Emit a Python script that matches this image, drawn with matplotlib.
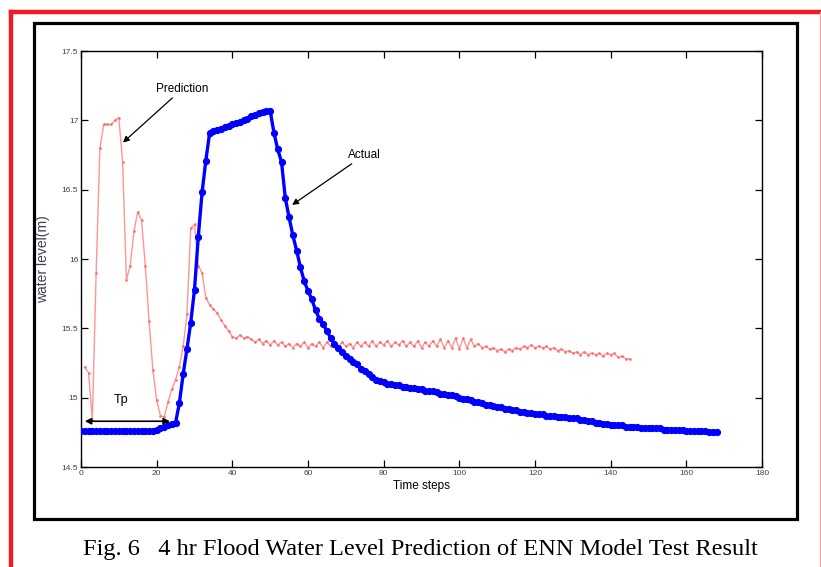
import matplotlib
matplotlib.use("Agg")
import matplotlib.pyplot as plt
from matplotlib.lines import Line2D
from matplotlib.patches import Rectangle

# actual water level, one value per time step (t = 0..168)
actual_level = [
    14.76, 14.76, 14.76, 14.76, 14.76, 14.76, 14.76, 14.76, 14.76, 14.76,
    14.76, 14.76, 14.76, 14.76, 14.76, 14.76, 14.76, 14.76, 14.76, 14.76,
    14.77, 14.78, 14.79, 14.80, 14.81, 14.82, 14.96, 15.17, 15.35, 15.54,
    15.78, 16.16, 16.48, 16.71, 16.91, 16.92, 16.93, 16.94, 16.95, 16.96,
    16.97, 16.98, 16.99, 17.00, 17.01, 17.03, 17.04, 17.05, 17.06, 17.07,
    17.07, 16.91, 16.79, 16.70, 16.44, 16.30, 16.17, 16.06, 15.94, 15.84,
    15.77, 15.71, 15.63, 15.57, 15.53, 15.48, 15.43, 15.39, 15.36, 15.33,
    15.30, 15.28, 15.26, 15.24, 15.21, 15.19, 15.17, 15.15, 15.13, 15.12,
    15.11, 15.10, 15.10, 15.09, 15.09, 15.08, 15.08, 15.07, 15.07, 15.06,
    15.06, 15.05, 15.05, 15.05, 15.04, 15.03, 15.03, 15.02, 15.02, 15.01,
    15.00, 14.99, 14.99, 14.98, 14.97, 14.97, 14.96, 14.95, 14.95, 14.94,
    14.93, 14.93, 14.92, 14.92, 14.91, 14.91, 14.90, 14.90, 14.89, 14.89,
    14.88, 14.88, 14.88, 14.87, 14.87, 14.87, 14.86, 14.86, 14.86, 14.85,
    14.85, 14.85, 14.84, 14.84, 14.83, 14.83, 14.82, 14.82, 14.81, 14.81,
    14.80, 14.80, 14.80, 14.80, 14.79, 14.79, 14.79, 14.79, 14.78, 14.78,
    14.78, 14.78, 14.78, 14.78, 14.77, 14.77, 14.77, 14.77, 14.77, 14.77,
    14.76, 14.76, 14.76, 14.76, 14.76, 14.76, 14.75, 14.75, 14.75,
]
actual_steps = list(range(len(actual_level)))

# ENN prediction, one value per time step (t = 1..145)
pred_level = [
    15.22, 15.18, 14.84, 15.90, 16.80, 16.97, 16.97, 16.97, 17.00,
    17.02, 16.70, 15.85, 15.95, 16.20, 16.34, 16.28, 15.95, 15.55, 15.20,
    14.98, 14.87, 14.86, 14.97, 15.06, 15.13, 15.22, 15.37, 15.60, 16.22,
    16.25, 15.95, 15.90, 15.72, 15.67, 15.64, 15.61, 15.56, 15.52, 15.48,
    15.44, 15.43, 15.45, 15.43, 15.44,
    15.42, 15.40, 15.42, 15.39, 15.41, 15.38, 15.41, 15.38, 15.40, 15.37,
    15.39, 15.36, 15.39, 15.37, 15.40, 15.36, 15.39, 15.37, 15.40, 15.36,
    15.40, 15.37, 15.39, 15.36, 15.40, 15.37, 15.39, 15.36, 15.40, 15.37,
    15.40, 15.37, 15.41, 15.37, 15.40, 15.38, 15.41, 15.37, 15.40, 15.38,
    15.41, 15.37, 15.40, 15.37, 15.41, 15.36, 15.40, 15.37, 15.41, 15.37,
    15.42, 15.36, 15.41, 15.36, 15.43, 15.35, 15.43, 15.36, 15.42, 15.37,
    15.39, 15.36, 15.37, 15.35, 15.36, 15.34, 15.35, 15.33, 15.35, 15.34,
    15.36, 15.35, 15.37, 15.36, 15.38, 15.36, 15.37, 15.36, 15.37, 15.35,
    15.36, 15.34, 15.35, 15.33, 15.34, 15.32, 15.33, 15.31, 15.33, 15.31,
    15.32, 15.31, 15.32, 15.30, 15.32, 15.31, 15.32, 15.29, 15.30, 15.28,
    15.28,
]
pred_steps = list(range(1, len(pred_level) + 1))

x_ticks = list(range(0, 181, 20))
y_ticks = [14.5, 15, 15.5, 16, 16.5, 17, 17.5]
y_tick_labels = ["14.5", "15", "15.5", "16", "16.5", "17", "17.5"]

plt.rcParams["font.family"] = ["Liberation Sans Narrow", "Liberation Sans", "DejaVu Sans"]

fig = plt.figure(figsize=(8.21, 5.67), dpi=100)
W, H = 821, 567

# red outer border (page decoration)
fig.add_artist(Line2D([11 / W, 11 / W], [0, 1 - 11.5 / H], color="#ee1c25", lw=3.2))
fig.add_artist(Line2D([11 / W, 1], [1 - 11.5 / H, 1 - 11.5 / H], color="#ee1c25", lw=3.2))
fig.add_artist(Line2D([819.5 / W, 819.5 / W], [0, 1 - 11.5 / H], color="#f6a0a4", lw=0.8))

# black frame around the figure
fig.add_artist(Rectangle((34 / W, 1 - 519 / H), 763 / W, 496 / H, fill=False,
                         edgecolor="black", lw=2.3, transform=fig.transFigure))

ax = fig.add_axes([81 / W, 1 - 467 / H, 681 / W, 416 / H])

ax.plot(pred_steps, pred_level, color="#ff5c5c", lw=1.0, marker=".", ms=2.2,
        alpha=0.65, zorder=2)
ax.plot(actual_steps, actual_level, color="#0000ff", lw=2.4, marker="o", ms=4.2,
        zorder=3)

ax.set_xlim(0, 180)
ax.set_ylim(14.5, 17.5)
ax.set_xticks(x_ticks)
ax.set_yticks(y_ticks)
ax.set_yticklabels(y_tick_labels)
ax.tick_params(direction="in", top=True, right=True, length=5, width=0.9,
               labelsize=6, labelcolor="#404058", pad=2)
for s in ax.spines.values():
    s.set_linewidth(1.0)

ax.set_xlabel("Time steps", fontsize=8.5, labelpad=2)
ax.set_ylabel("water level(m)", fontsize=10, family="Liberation Sans",
              color="#404058", labelpad=8)

arrow = dict(arrowstyle="-|>", color="black", lw=0.9, mutation_scale=9,
             shrinkA=0, shrinkB=0)
ax.annotate("Prediction", xy=(11.1, 16.84), xytext=(19.8, 17.225),
            fontsize=8.5, ha="left", va="center", arrowprops=arrow)
ax.annotate("Actual", xy=(55.8, 16.39), xytext=(70.6, 16.75),
            fontsize=8.5, ha="left", va="center", arrowprops=arrow)
ax.annotate("", xy=(1, 14.83), xytext=(23.5, 14.83),
            arrowprops=dict(arrowstyle="<|-|>", color="black", lw=1.2,
                            mutation_scale=9, shrinkA=0, shrinkB=0))
ax.text(10.5, 14.98, "Tp", fontsize=9, ha="center", va="center")

fig.text(420 / W, 1 - 550 / H,
         "Fig. 6   4 hr Flood Water Level Prediction of ENN Model Test Result",
         family="Liberation Serif", fontsize=17.6, ha="center", va="center")

fig.savefig("out.png", dpi=100)
